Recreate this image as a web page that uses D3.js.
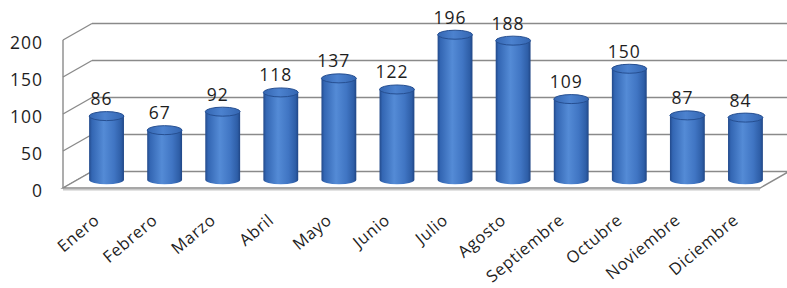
<!DOCTYPE html>
<html>
<head>
<meta charset="utf-8">
<script src="https://cdn.jsdelivr.net/npm/d3@7"></script>
<style>
  body { margin: 0; background: #fff; }
  svg { display: block; }
  text { font-family: "Open Sans", "Noto Sans", sans-serif; fill: #1e1e1e; }
</style>
</head>
<body>
<svg id="chart" width="787" height="288"></svg>
<script>
"use strict"

const months = ["Enero", "Febrero", "Marzo", "Abril", "Mayo", "Junio", "Julio",
    "Agosto", "Septiembre", "Octubre", "Noviembre", "Diciembre"];
const values = [86, 67, 92, 118, 137, 122, 196, 188, 109, 150, 87, 84];
const yTicks = [0, 50, 100, 150, 200];

const svg = d3.select("#chart");

// front plane of the 3d box, and how far back the back wall sits
const left = 63, right = 760;
const depthX = 29, depthY = -16.5;

const x = d3.scaleBand().domain(months).range([left, right]).padding(0);
const y = d3.scaleLinear().domain([0, 200]).range([188, 40]);

const barW = x.step() * 0.6;
const rx = barW / 2, ry = 4.5;
const midX = depthX / 2, midY = depthY / 2;

// gradients
const defs = svg.append("defs");
const bodyGrad = defs.append("linearGradient").attr("id", "body")
    .attr("x1", "0%").attr("x2", "100%").attr("y1", "0%").attr("y2", "0%");
[["0%", "#22498a"], ["8%", "#3366b3"], ["42%", "#548bd6"], ["72%", "#4075c3"], ["92%", "#2e5ea7"], ["100%", "#204685"]]
    .forEach(s => bodyGrad.append("stop").attr("offset", s[0]).attr("stop-color", s[1]));
const topGrad = defs.append("linearGradient").attr("id", "top")
    .attr("x1", "0%").attr("x2", "100%").attr("y1", "0%").attr("y2", "0%");
[["0%", "#3466b2"], ["45%", "#4c82cf"], ["100%", "#3466b2"]]
    .forEach(s => topGrad.append("stop").attr("offset", s[0]).attr("stop-color", s[1]));

// grid: left wall and back wall
const grid = svg.append("g").attr("stroke", "#8a8a8a").attr("stroke-width", 1.4).attr("fill", "none");

grid.selectAll(".back").data(yTicks.filter(d => d > 0)).join("line")
    .attr("x1", left + depthX).attr("x2", 787)
    .attr("y1", d => y(d) + depthY).attr("y2", d => y(d) + depthY);

grid.selectAll(".side").data(yTicks).join("line")
    .attr("x1", left).attr("x2", left + depthX)
    .attr("y1", d => y(d)).attr("y2", d => y(d) + depthY);

grid.append("line")
    .attr("x1", left).attr("x2", left)
    .attr("y1", y(0)).attr("y2", y(200));

// floor
const floor = svg.append("g").attr("fill", "none");
floor.append("path")
    .attr("d", `M${left},${y(0)} L${right},${y(0)} L${right + depthX},${y(0) + depthY} L${left + depthX},${y(0) + depthY} Z`)
    .attr("fill", "#fff")
    .attr("stroke", "#8a8a8a").attr("stroke-width", 1.4);
floor.append("line")
    .attr("x1", left).attr("x2", right)
    .attr("y1", y(0) + 1.8).attr("y2", y(0) + 1.8)
    .attr("stroke", "#c8c8c8").attr("stroke-width", 1.5);

// bars as cylinders
const bars = svg.append("g").selectAll("g").data(values).join("g")
    .attr("transform", (d, i) => `translate(${x(months[i]) + x.bandwidth() / 2 + midX},0)`);

bars.append("path")
    .attr("fill", "url(#body)")
    .attr("d", d => {
        const yt = y(d) + midY, yb = y(0) + midY;
        return `M${-rx},${yt} L${-rx},${yb} A${rx},${ry} 0 0 0 ${rx},${yb} L${rx},${yt} Z`;
    });

bars.append("ellipse")
    .attr("cx", 0).attr("cy", d => y(d) + midY)
    .attr("rx", rx).attr("ry", ry)
    .attr("fill", "url(#top)")
    .attr("stroke", "#264f91").attr("stroke-width", 1);

bars.append("text")
    .attr("x", -5).attr("y", d => y(d) + midY - 11)
    .attr("text-anchor", "middle")
    .attr("font-size", 17.5).attr("letter-spacing", 1)
    .text(d => d);

// y axis labels
const yAxis = svg.append("g")
    .attr("transform", `translate(${left - 20},3)`)
    .call(d3.axisLeft(y).tickValues(yTicks).tickSize(0).tickPadding(0));
yAxis.select(".domain").remove();
yAxis.selectAll("text")
    .attr("font-family", "Open Sans").attr("font-size", 17.5).attr("letter-spacing", 1)
    .attr("fill", "#1e1e1e");

// x axis labels, rotated
const xAxis = svg.append("g")
    .attr("transform", `translate(${midX - 6},222)`)
    .call(d3.axisBottom(x).tickSize(0).tickPadding(0));
xAxis.select(".domain").remove();
xAxis.selectAll("text")
    .attr("font-family", "Open Sans").attr("font-size", 16.5).attr("letter-spacing", 0.6)
    .attr("fill", "#1e1e1e")
    .attr("text-anchor", "end")
    .attr("dy", 0).attr("y", 0)
    .attr("transform", "rotate(-40)");
</script>
</body>
</html>
